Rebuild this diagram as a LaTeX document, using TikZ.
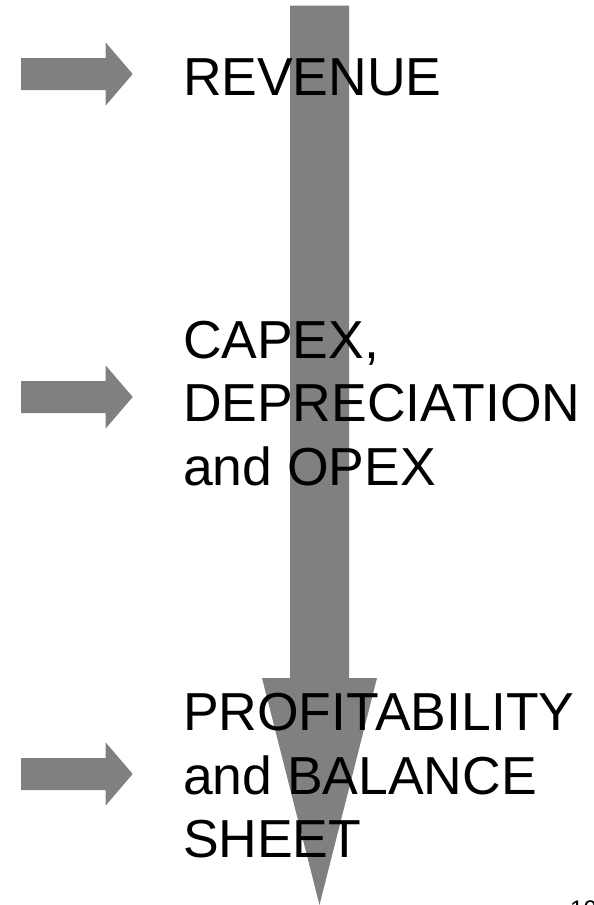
\documentclass[tikz,border=0pt]{standalone}
\usepackage{fontspec}
\setmainfont{Liberation Sans}
\begin{document}
\begin{tikzpicture}[x=1pt,y=-1pt,
  shape fill/.style={fill=black!50,draw=none},
  big text/.style={anchor=base west,inner sep=0pt,outer sep=0pt,font=\fontsize{53.5}{64}\selectfont,text=black},
  page num/.style={anchor=base west,inner sep=0pt,font=\fontsize{24}{28}\selectfont,text=black}]
\useasboundingbox (0,0) rectangle (594,905);
\clip (0,0) rectangle (594,905);
% big downward arrow
\path[shape fill] (290,5.7) -- (349,5.7) -- (349,678) -- (377,678) -- (319.5,905) -- (262,678) -- (290,678) -- cycle;
% small arrows
\foreach \cy/\nm in {74/a1,397/a2,774/a3}{
  \path[shape fill] (21,\cy-16) -- (105.7,\cy-16) -- (105.7,\cy-31.5) -- (132.7,\cy) -- (105.7,\cy+31.5) -- (105.7,\cy+16) -- (21,\cy+16) -- cycle;
}
% texts
\node[big text] (rev) at (183,95) {REVENUE};
\node[big text] (cap1) at (183,358.4) {CAPEX,};
\node[big text] (cap2) at (183,421.7) {DEPRECIATION};
\node[big text] (cap3) at (183,485) {and OPEX};
\node[big text] (pro1) at (183,730.7) {PROFITABILITY};
\node[big text] (pro2) at (183,794) {and BALANCE};
\node[big text] (pro3) at (183,857.3) {SHEET};
\node[page num] (pg) at (570,917) {10};
\end{tikzpicture}
\end{document}
